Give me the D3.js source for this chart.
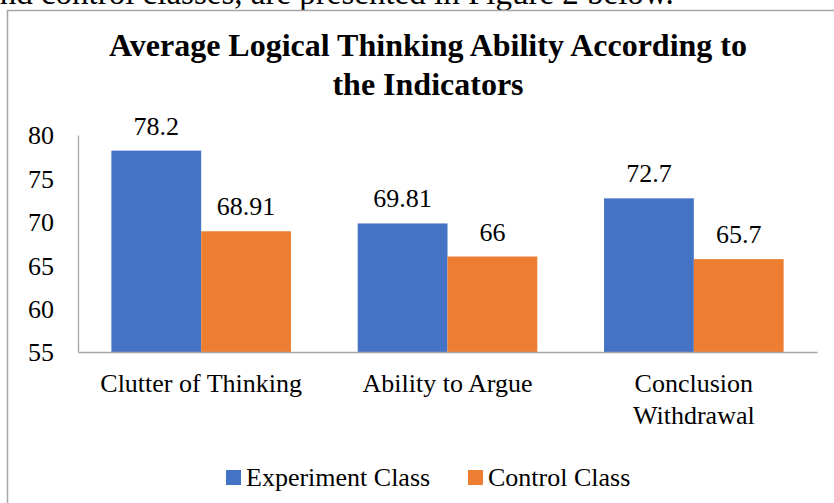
<!DOCTYPE html>
<html>
<head>
<meta charset="utf-8">
<script src="https://cdn.jsdelivr.net/npm/d3@7"></script>
<style>
  html, body { margin: 0; padding: 0; background: #fff; overflow: hidden; }
  svg { display: block; }
  text { font-family: "Liberation Serif", "Times New Roman", serif; fill: #000; }
</style>
</head>
<body>
<script>
const categories = ["Clutter of Thinking", "Ability to Argue", "Conclusion Withdrawal"];
const categoryLines = [["Clutter of Thinking"], ["Ability to Argue"], ["Conclusion", "Withdrawal"]];
const seriesNames = ["Experiment Class", "Control Class"];
const experimentValues = [78.2, 69.81, 72.7];
const controlValues = [68.91, 66, 65.7];
const valueLabels = [["78.2", "69.81", "72.7"], ["68.91", "66", "65.7"]];
const yTicks = [55, 60, 65, 70, 75, 80];
const colors = ["#4472C4", "#ED7D31"];
const titleLines = ["Average Logical Thinking Ability According to", "the Indicators"];

const W = 834, H = 503;
const svg = d3.select("body").append("svg").attr("width", W).attr("height", H);

// text above the figure (cut off in the reference too)
svg.append("text").attr("x", -15).attr("y", 4).attr("font-size", 33)
  .text("and control classes, are presented in Figure 2 below.");

// chart border
svg.append("rect").attr("x", 7.5).attr("y", 10.5).attr("width", 900).attr("height", 600)
  .attr("fill", "#fff").attr("stroke", "#a6a6a6").attr("stroke-width", 1.5);

// title
svg.append("g").selectAll("text").data(titleLines).join("text")
  .attr("x", 428).attr("y", (d, i) => 56 + i * 39)
  .attr("text-anchor", "middle").attr("font-size", 32).attr("font-weight", "bold")
  .text(d => d);

const x0 = d3.scaleBand().domain(categories).range([78, 817]).paddingInner(0.271).paddingOuter(0.1355);
const x1 = d3.scaleBand().domain(seriesNames).range([0, x0.bandwidth()]);
const y = d3.scaleLinear().domain([55, 80]).range([352, 135]);

// y axis
const yAxis = svg.append("g").attr("transform", "translate(78,0)")
  .call(d3.axisLeft(y).tickValues(yTicks).tickSize(0).tickPadding(24));
yAxis.select(".domain").attr("stroke", "#a6a6a6").attr("stroke-width", 1.3);
yAxis.selectAll("text").attr("font-size", 26).attr("font-family", "Liberation Serif").attr("dy", "0.34em");

const data = categories.map((c, i) => ({ cat: c, vals: [experimentValues[i], controlValues[i]] }));

const groups = svg.append("g").selectAll("g").data(data).join("g")
  .attr("transform", d => `translate(${x0(d.cat)},0)`);

groups.selectAll("rect").data(d => d.vals.map((v, j) => ({ s: seriesNames[j], v, j }))).join("rect")
  .attr("x", d => x1(d.s)).attr("width", x1.bandwidth())
  .attr("y", d => y(d.v)).attr("height", d => y(55) - y(d.v))
  .attr("fill", d => colors[d.j]);

groups.each(function(d, i) {
  d3.select(this).selectAll("text.val").data(d.vals.map((v, j) => ({ s: seriesNames[j], v, j }))).join("text")
    .attr("class", "val")
    .attr("x", e => x1(e.s) + x1.bandwidth() / 2)
    .attr("y", e => y(e.v) - 16)
    .attr("text-anchor", "middle").attr("font-size", 26)
    .text(e => valueLabels[e.j][i]);
});

// x axis baseline
const xAxis = svg.append("g").attr("transform", `translate(0,${y(55)})`)
  .call(d3.axisBottom(x0).tickSize(0).tickFormat(""));
xAxis.select(".domain").attr("stroke", "#a6a6a6").attr("stroke-width", 1.3);

// category labels
svg.append("g").selectAll("text").data(categories).join("text")
  .attr("x", d => x0(d) + x0.bandwidth() / 2)
  .attr("y", 392)
  .attr("text-anchor", "middle").attr("font-size", 26)
  .each(function(d, i) {
    d3.select(this).selectAll("tspan").data(categoryLines[i]).join("tspan")
      .attr("x", x0(d) + x0.bandwidth() / 2)
      .attr("dy", (t, k) => k === 0 ? 0 : 32)
      .text(t => t);
  });

// legend
const legendX = [226, 468];
const leg = svg.append("g").selectAll("g").data(seriesNames).join("g")
  .attr("transform", (d, i) => `translate(${legendX[i]},0)`);
leg.append("rect").attr("x", 0).attr("y", 470).attr("width", 15).attr("height", 15)
  .attr("fill", (d, i) => colors[i]);
leg.append("text").attr("x", 20).attr("y", 477).attr("dy", "0.34em").attr("font-size", 26).text(d => d);
</script>
</body>
</html>
